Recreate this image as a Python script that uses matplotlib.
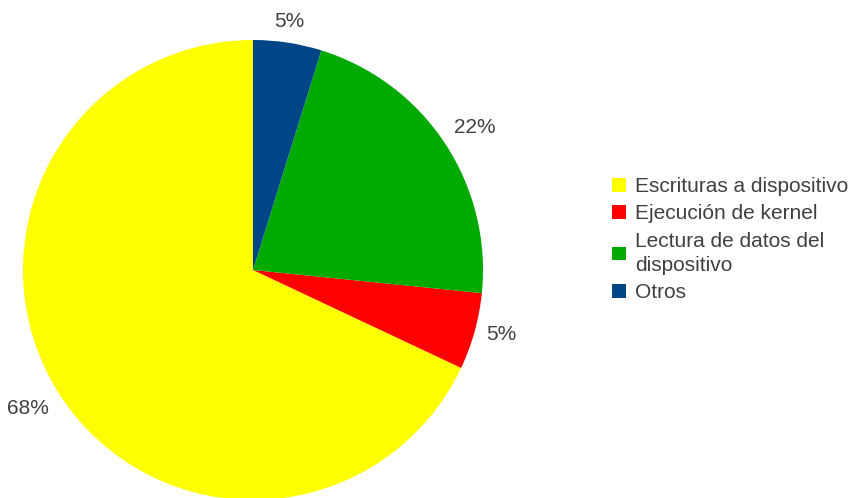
import numpy as np
import matplotlib.pyplot as plt

categorias = ["Escrituras a dispositivo", "Ejecución de kernel",
              "Lectura de datos del\ndispositivo", "Otros"]
valores = [68.0, 5.4, 21.8, 4.8]
colores = ["#ffff00", "#ff0000", "#00aa00", "#004586"]

plt.rcParams['font.family'] = ['Liberation Sans', 'DejaVu Sans']
gris = "#404040"

fig = plt.figure(figsize=(8.53, 4.98), dpi=100)
ax = fig.add_axes([23 / 853, -2 / 498, 460 / 853, 460 / 498])

wedges, _ = ax.pie(valores, colors=colores, startangle=90, counterclock=True,
                   radius=1)

# porcentajes fuera del círculo, alineados según el ángulo de cada porción
total = sum(valores)
for w, v in zip(wedges, valores):
    ang = np.deg2rad((w.theta1 + w.theta2) / 2)
    c, s = np.cos(ang), np.sin(ang)
    ha = 'left' if c > 0.3 else ('right' if c < -0.3 else 'center')
    va = 'bottom' if s > 0.3 else ('top' if s < -0.3 else 'center')
    ax.text(1.05 * c, 1.05 * s, f"{100 * v / total:.0f}%", ha=ha, va=va,
            color=gris, fontsize=15)

ax.set_xlim(-1, 1)
ax.set_ylim(-1, 1)
ax.set_aspect('auto')
ax.axis('off')

leg = fig.legend(wedges, categorias, loc='upper left',
                 bbox_to_anchor=(612 / 853, 1 - 177 / 498),
                 frameon=False, fontsize=15, labelcolor=gris,
                 handlelength=0.65, handleheight=0.65, handletextpad=0.45,
                 labelspacing=0.4, borderaxespad=0, borderpad=0)
for t in leg.get_texts():
    t.set_linespacing(1.35)

fig.savefig("out.png", dpi=100)
